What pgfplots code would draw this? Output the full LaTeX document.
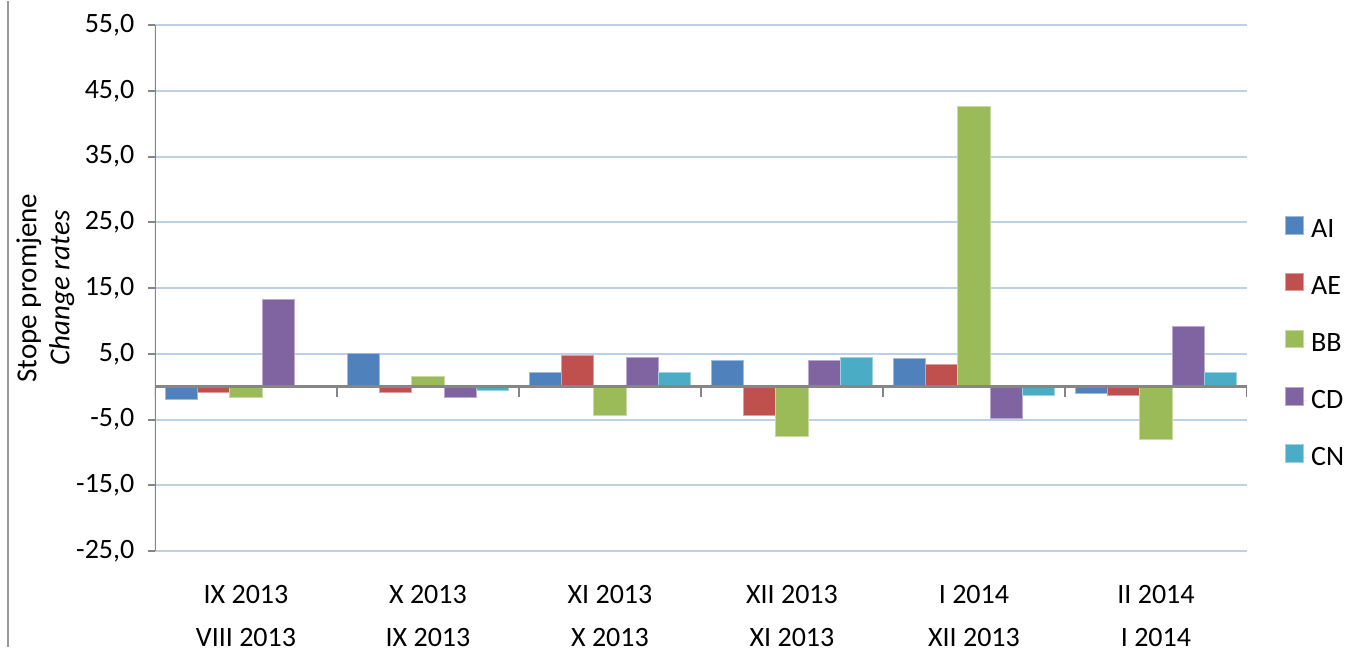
\documentclass[border=0pt]{standalone}
\usepackage{pgfplots}
\pgfplotsset{compat=1.18}
\usepackage{fontspec}
\setmainfont{Carlito}
\definecolor{cAI}{RGB}{79,129,189}
\definecolor{cAE}{RGB}{192,80,77}
\definecolor{cBB}{RGB}{155,187,89}
\definecolor{cCD}{RGB}{128,100,162}
\definecolor{cCN}{RGB}{75,172,198}
\definecolor{gridc}{RGB}{190,208,230}
\definecolor{axc}{RGB}{134,134,134}
\begin{document}
\begin{tikzpicture}
\begin{axis}[
  scale only axis,
  width=546pt, height=263pt,
  xmin=-0.5, xmax=5.5,
  ymin=-25, ymax=55,
  ybar=0pt,
  bar width=0.176,
  axis line style={draw=none},
  ytick={-25,-15,-5,5,15,25,35,45,55},
  ymajorgrids,
  grid style={gridc, line width=1pt},
  ytick style={axc, line width=1pt},
  tick align=outside,
  major tick length=3.5pt,
  ytick pos=left,
  xtick={0,1,2,3,4,5},
  xticklabels={{IX 2013\\VIII 2013},{X 2013\\IX 2013},{XI 2013\\X 2013},{XII 2013\\XI 2013},{I 2014\\XII 2013},{II 2014\\I 2014}},
  x tick style={draw=none},
  xticklabel style={align=center, font=\fontsize{14}{21.5}\selectfont, yshift=-10.3pt},
  yticklabel style={font=\fontsize{14}{17}\selectfont, xshift=-3.3pt},
  /pgf/number format/.cd, fixed, fixed zerofill, precision=1, use comma, assume math mode=true,
  /pgfplots/.cd,
  ylabel={Stope promjene\\\textit{Change rates}},
  every axis y label/.style={at={(axis description cs:0,0.5)}, xshift=-54.75pt, rotate=90, anchor=center, align=center, font=\fontsize{14.5}{16.5}\selectfont},
  legend style={draw=none, fill=none, inner sep=0pt, at={(1.0348,0.394)}, anchor=west, font=\fontsize{14}{17}\selectfont, row sep=14pt, legend cell align=left},
  legend image code/.code={\fill[#1] (0pt,-2.2pt) rectangle (8.6pt,6.4pt); \path[draw=none] (0pt,0pt) -- (10.6pt,0pt);},
]
\addplot[fill=cAI, draw=cAI!55!white, line width=0.5pt] coordinates {(0,-2.0) (1,5.1) (2,2.2) (3,4.0) (4,4.3) (5,-1.0)};
\addplot[fill=cAE, draw=cAE!55!white, line width=0.5pt] coordinates {(0,-0.9) (1,-0.9) (2,4.8) (3,-4.4) (4,3.3) (5,-1.3)};
\addplot[fill=cBB, draw=cBB!55!white, line width=0.5pt] coordinates {(0,-1.6) (1,1.5) (2,-4.4) (3,-7.6) (4,42.6) (5,-8.1)};
\addplot[fill=cCD, draw=cCD!55!white, line width=0.5pt] coordinates {(0,13.2) (1,-1.6) (2,4.4) (3,4.0) (4,-4.9) (5,9.2)};
\addplot[fill=cCN, draw=cCN!55!white, line width=0.5pt] coordinates {(0,0.1) (1,-0.6) (2,2.2) (3,4.4) (4,-1.3) (5,2.1)};
\legend{AI,AE,BB,CD,CN}
\draw[axc, line width=1pt] (rel axis cs:0,0) -- (rel axis cs:0,1);
\draw[axc, line width=1.3pt] (axis cs:-0.5,0) -- (axis cs:5.5,0);
\pgfplotsinvokeforeach{-0.5,0.5,1.5,2.5,3.5,4.5,5.5}{
  \draw[axc, line width=1pt] (axis cs:#1,0) -- ([yshift=-5pt]axis cs:#1,0);
}
\end{axis}
\pgfresetboundingbox
\path (-77.5pt,-48pt) rectangle (601pt,275pt);
\draw[gray!80, line width=1pt] (-73.5pt,-48pt) -- (-73.5pt,275pt);
\end{tikzpicture}
\end{document}
